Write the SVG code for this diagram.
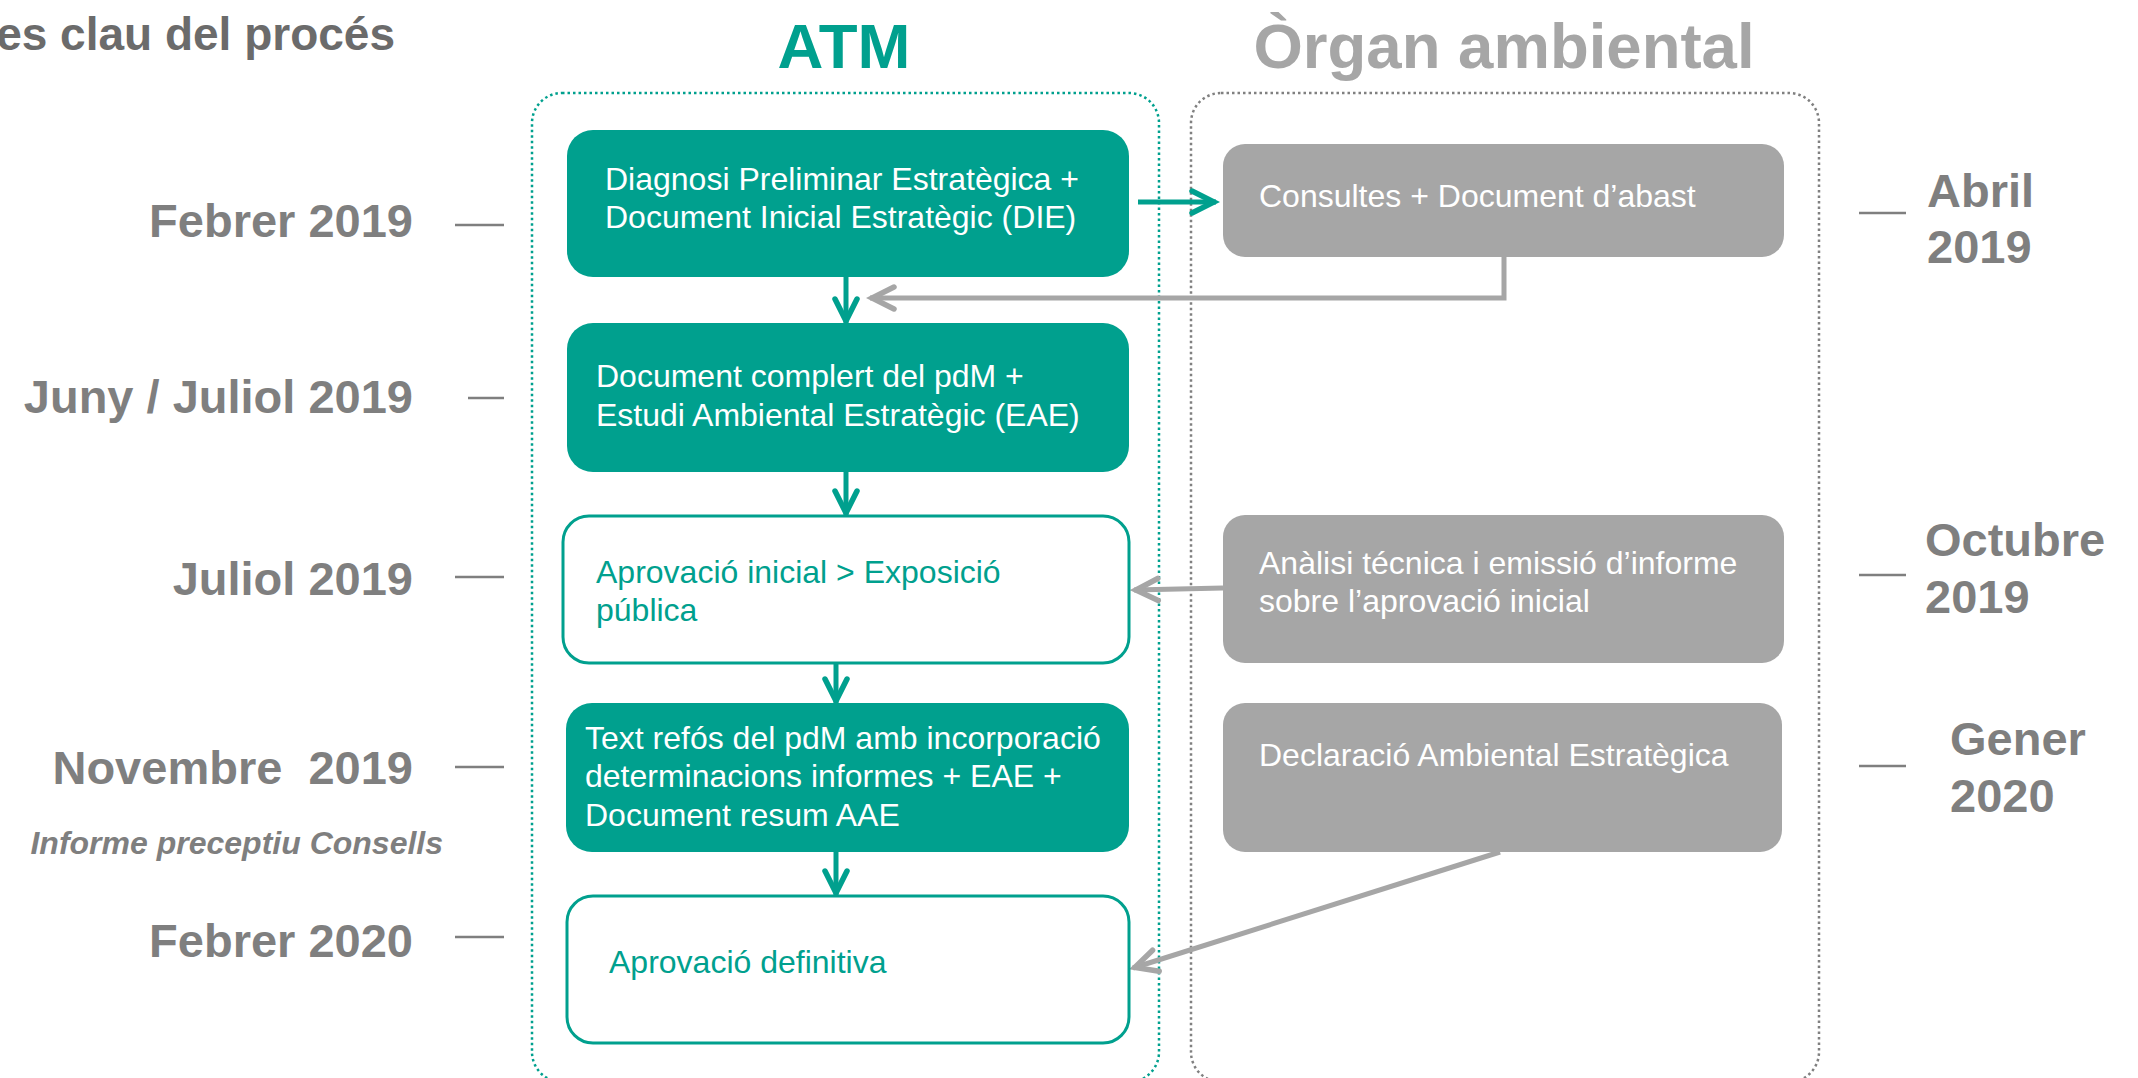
<svg xmlns="http://www.w3.org/2000/svg" width="2138" height="1078" viewBox="0 0 2138 1078">
<style>
  text { font-family: "Liberation Sans", Arial, sans-serif; }
  .title { font-size: 46px; font-weight: bold; fill: #6B6B6B; }
  .head { font-size: 63.5px; font-weight: bold; }
  .date { font-size: 47px; font-weight: bold; fill: #7F7F7F; }
  .note { font-size: 32px; font-weight: bold; font-style: italic; fill: #7F7F7F; }
  .dash { stroke: #7F7F7F; stroke-width: 2.5; }
  .teal-fill { fill: #00A08E; }
  .white-box { fill: #FFFFFF; stroke: #00A08E; stroke-width: 3; }
  .gray-fill { fill: #A6A6A6; }
  .ntext { font-size: 32px; fill: #FFFFFF; }
  .ttext { font-size: 32px; fill: #00A08E; }
  .cont-teal { fill: none; stroke: #00A08E; stroke-width: 2.5; stroke-dasharray: 2.5 3; }
  .cont-gray { fill: none; stroke: #808080; stroke-width: 2.5; stroke-dasharray: 2.5 3; }
  .c-teal { fill: none; stroke: #00A08E; stroke-width: 5; }
  .c-gray { fill: none; stroke: #A6A6A6; stroke-width: 5; }
</style>
<defs>
  <marker id="ah-teal" viewBox="-30 -16 34 32" markerWidth="34" markerHeight="32" refX="0" refY="0" orient="auto" markerUnits="userSpaceOnUse">
    <path d="M-24,-11 L-2,0 L-24,11" fill="none" stroke="#00A08E" stroke-width="5.5" stroke-linecap="round" stroke-linejoin="miter"/>
  </marker>
  <marker id="ah-gray" viewBox="-30 -16 34 32" markerWidth="34" markerHeight="32" refX="0" refY="0" orient="auto" markerUnits="userSpaceOnUse">
    <path d="M-24,-11 L-2,0 L-24,11" fill="none" stroke="#A6A6A6" stroke-width="5.5" stroke-linecap="round" stroke-linejoin="miter"/>
  </marker>
</defs>

<rect width="2138" height="1078" fill="#FFFFFF"/>

<g id="title">
  <text class="title" x="395" y="50" text-anchor="end">es clau del procés</text>
</g>

<g id="lane-atm">
  <rect class="cont-teal" x="532" y="93" width="627" height="989" rx="30"/>
  <text class="head" x="844" y="68" text-anchor="middle" fill="#00A08E">ATM</text>
</g>
<g id="lane-organ">
  <rect class="cont-gray" x="1191" y="93" width="628" height="989" rx="30"/>
  <text class="head" x="1504" y="68" text-anchor="middle" fill="#A6A6A6">Òrgan ambiental</text>
</g>

<g id="dates-left">
  <text class="date" x="413" y="237" text-anchor="end">Febrer 2019</text>
  <line class="dash" x1="455" y1="225" x2="504" y2="225"/>
  <text class="date" x="413" y="413" text-anchor="end">Juny / Juliol 2019</text>
  <line class="dash" x1="468" y1="398" x2="504" y2="398"/>
  <text class="date" x="413" y="595" text-anchor="end">Juliol 2019</text>
  <line class="dash" x1="455" y1="577" x2="504" y2="577"/>
  <text class="date" x="413" y="784" text-anchor="end" xml:space="preserve">Novembre  2019</text>
  <line class="dash" x1="455" y1="767" x2="504" y2="767"/>
  <text class="note" x="443" y="854" text-anchor="end">Informe preceptiu Consells</text>
  <text class="date" x="413" y="957" text-anchor="end">Febrer 2020</text>
  <line class="dash" x1="455" y1="937" x2="504" y2="937"/>
</g>

<g id="dates-right">
  <line class="dash" x1="1859" y1="213" x2="1906" y2="213"/>
  <text class="date" x="1927" y="207">Abril</text>
  <text class="date" x="1927" y="263">2019</text>
  <line class="dash" x1="1859" y1="575" x2="1906" y2="575"/>
  <text class="date" x="1925" y="556">Octubre</text>
  <text class="date" x="1925" y="613">2019</text>
  <line class="dash" x1="1859" y1="766" x2="1906" y2="766"/>
  <text class="date" x="1950" y="755">Gener</text>
  <text class="date" x="1950" y="812">2020</text>
</g>

<g id="connectors">
  <line class="c-teal" x1="1138" y1="202" x2="1216" y2="202" marker-end="url(#ah-teal)"/>
  <path class="c-gray" d="M1504,257 V298 H870" marker-end="url(#ah-gray)"/>
  <line class="c-teal" x1="846" y1="277" x2="846" y2="323" marker-end="url(#ah-teal)"/>
  <line class="c-teal" x1="846" y1="472" x2="846" y2="515" marker-end="url(#ah-teal)"/>
  <line class="c-teal" x1="836" y1="664" x2="836" y2="703" marker-end="url(#ah-teal)"/>
  <line class="c-teal" x1="836" y1="852" x2="836" y2="895" marker-end="url(#ah-teal)"/>
  <line class="c-gray" x1="1223" y1="588" x2="1134" y2="590" marker-end="url(#ah-gray)"/>
  <line class="c-gray" x1="1500" y1="852" x2="1133" y2="968" marker-end="url(#ah-gray)"/>
</g>

<g id="node-die">
  <rect class="teal-fill" x="567" y="130" width="562" height="147" rx="26"/>
  <text class="ntext" x="605" y="190">Diagnosi Preliminar Estratègica +</text>
  <text class="ntext" x="605" y="228">Document Inicial Estratègic (DIE)</text>
</g>
<g id="node-eae">
  <rect class="teal-fill" x="567" y="323" width="562" height="149" rx="26"/>
  <text class="ntext" x="596" y="387">Document complert del pdM +</text>
  <text class="ntext" x="596" y="426">Estudi Ambiental Estratègic (EAE)</text>
</g>
<g id="node-aprovacio-inicial">
  <rect class="white-box" x="563" y="516" width="566" height="147" rx="26"/>
  <text class="ttext" x="596" y="583">Aprovació inicial &gt; Exposició</text>
  <text class="ttext" x="596" y="621">pública</text>
</g>
<g id="node-text-refos">
  <rect class="teal-fill" x="566" y="703" width="563" height="149" rx="26"/>
  <text class="ntext" x="585" y="749">Text refós del pdM amb incorporació</text>
  <text class="ntext" x="585" y="787">determinacions informes + EAE +</text>
  <text class="ntext" x="585" y="826">Document resum AAE</text>
</g>
<g id="node-aprovacio-definitiva">
  <rect class="white-box" x="567" y="896" width="562" height="147" rx="26"/>
  <text class="ttext" x="609" y="973">Aprovació definitiva</text>
</g>

<g id="node-consultes">
  <rect class="gray-fill" x="1223" y="144" width="561" height="113" rx="22"/>
  <text class="ntext" x="1259" y="207">Consultes + Document d’abast</text>
</g>
<g id="node-analisi">
  <rect class="gray-fill" x="1223" y="515" width="561" height="148" rx="22"/>
  <text class="ntext" x="1259" y="574">Anàlisi técnica i emissió d’informe</text>
  <text class="ntext" x="1259" y="612">sobre l’aprovació inicial</text>
</g>
<g id="node-declaracio">
  <rect class="gray-fill" x="1223" y="703" width="559" height="149" rx="22"/>
  <text class="ntext" x="1259" y="766">Declaració Ambiental Estratègica</text>
</g>
</svg>
